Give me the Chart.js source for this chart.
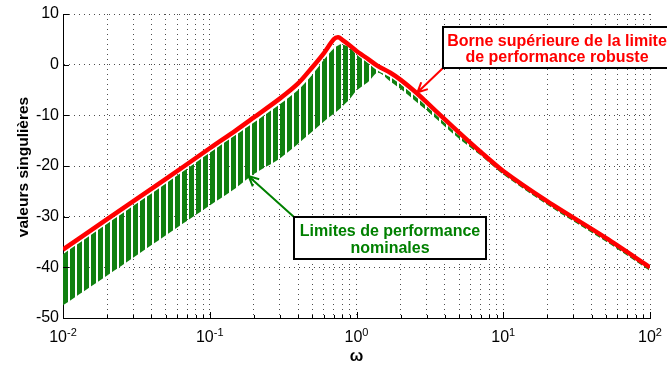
<!DOCTYPE html>
<html>
<head>
<meta charset="utf-8">
<script src="https://cdn.jsdelivr.net/npm/chart.js@4.4.0/dist/chart.umd.min.js"></script>
<style>
  html, body { margin: 0; padding: 0; background: #fff; }
  canvas { display: block; }
</style>
</head>
<body>
<canvas id="c" width="667" height="365"></canvas>
<script>
// frequency points (rad/s)
const omega = [0.01, 0.02, 0.05, 0.1, 0.15, 0.2, 0.3, 0.4, 0.5, 0.6, 0.7, 0.75, 0.8, 0.9, 1, 1.2, 1.4, 1.7, 2, 2.5, 3, 4, 5, 7, 10, 20, 50, 100]

// red: upper bound of robust performance limit (dB)
const robustUpper = [-36.5, -30.5, -22.6, -16.5, -13.0, -10.4, -6.7, -3.7, -0.5, 2.3, 5.0, 5.4, 4.9, 3.8, 2.7, 1.1, -0.3, -1.6, -3.0, -5.3, -7.4, -10.8, -13.4, -17.2, -21.0, -27.0, -34.2, -40.0]

// green: envelope of the nominal performance limits (dB)
const nominalUpper = [-37.4, -31.4, -23.5, -17.4, -13.9, -11.4, -7.8, -5.0, -2.0, 1.0, 3.2, 3.8, 4.0, 3.4, 2.0, 0.3, -1.2, -2.5, -3.9, -6.2, -8.2, -11.5, -14.0, -17.5, -21.3, -27.3, -34.5, -40.3]
const nominalLower = [-47.5, -41.6, -33.7, -27.8, -24.4, -21.6, -18.5, -15.6, -13.2, -11.2, -9.7, -9.0, -8.3, -6.8, -5.1, -3.4, -1.6, -3.3, -4.8, -7.1, -9.0, -12.2, -14.6, -17.9, -21.7, -27.7, -34.9, -40.7]

const yTicks = [-50, -40, -30, -20, -10, 0, 10]
const xDecades = [0.01, 0.1, 1, 10, 100]
const xExponents = ['-2', '-1', '0', '1', '2']

const RED = '#ff0000'
const GREEN = '#008000'
const FONT = 'Arial, "Liberation Sans", sans-serif'

const canvas = document.getElementById('c')
const ctx0 = canvas.getContext('2d')

// vertical hatching used for the nominal band
function hatch() {
    const c = document.createElement('canvas')
    c.width = 7
    c.height = 6
    const g = c.getContext('2d')
    g.fillStyle = 'rgb(16,128,16)'
    g.fillRect(0, 0, 5, 6)
    return ctx0.createPattern(c, 'repeat')
}

const pts = (ys) => omega.map((w, i) => ({ x: w, y: ys[i] }))

// grid positions of the log axis: 1..9 in each decade
const xGrid = []
xDecades.forEach((d, i) => {
    if (i === xDecades.length - 1) { xGrid.push(d); return }
    for (let k = 1; k <= 9; k++) xGrid.push(+(d * k).toPrecision(3))
})

function arrow(ctx, x1, y1, x2, y2, color) {
    const a = Math.atan2(y2 - y1, x2 - x1)
    const len = 11, spread = 0.45
    ctx.strokeStyle = color
    ctx.lineWidth = 2
    ctx.beginPath()
    ctx.moveTo(x1, y1)
    ctx.lineTo(x2, y2)
    ctx.moveTo(x2 - len * Math.cos(a - spread), y2 - len * Math.sin(a - spread))
    ctx.lineTo(x2, y2)
    ctx.lineTo(x2 - len * Math.cos(a + spread), y2 - len * Math.sin(a + spread))
    ctx.stroke()
}

function textBox(ctx, x1, y1, x2, y2, lines, cx, baselines, color) {
    ctx.fillStyle = '#fff'
    ctx.fillRect(x1, y1, x2 - x1, y2 - y1)
    ctx.strokeStyle = '#000'
    ctx.lineWidth = 2
    ctx.strokeRect(x1, y1, x2 - x1, y2 - y1)
    ctx.fillStyle = color
    ctx.font = 'bold 16px ' + FONT
    ctx.textAlign = 'center'
    ctx.textBaseline = 'alphabetic'
    lines.forEach((t, i) => ctx.fillText(t, cx, baselines[i]))
}

const overlay = {
    id: 'overlay',
    afterDraw(chart) {
        const { ctx, chartArea: a, scales: { x, y } } = chart
        ctx.save()

        // tick marks pointing into the plot
        ctx.strokeStyle = '#000'
        ctx.lineWidth = 1
        ctx.beginPath()
        xGrid.forEach(v => {
            const px = Math.round(x.getPixelForValue(v)) + 0.5
            const len = xDecades.includes(v) ? 6 : 3
            ctx.moveTo(px, a.bottom)
            ctx.lineTo(px, a.bottom - len)
        })
        yTicks.forEach(v => {
            const py = Math.round(y.getPixelForValue(v)) + 0.5
            ctx.moveTo(a.left, py)
            ctx.lineTo(a.left + 6, py)
        })
        ctx.stroke()

        // x tick labels 10^n
        ctx.fillStyle = '#000'
        ctx.textAlign = 'left'
        ctx.textBaseline = 'alphabetic'
        xDecades.forEach((v, i) => {
            const px = x.getPixelForValue(v)
            ctx.font = '16px ' + FONT
            const bw = ctx.measureText('10').width
            ctx.font = '11px ' + FONT
            const ew = ctx.measureText(xExponents[i]).width
            const left = px - (bw + ew) / 2
            ctx.font = '16px ' + FONT
            ctx.fillText('10', left, 342)
            ctx.font = '11px ' + FONT
            ctx.fillText(xExponents[i], left + bw, 336)
        })

        // axis titles
        ctx.font = 'bold 16px ' + FONT
        ctx.textAlign = 'center'
        ctx.fillText('ω', (a.left + a.right) / 2, 361)
        ctx.save()
        ctx.translate(28, 167)
        ctx.rotate(-Math.PI / 2)
        ctx.font = 'bold 15.5px ' + FONT
        ctx.fillText('valeurs singulières', 0, 0)
        ctx.restore()

        // annotations
        const px = (w) => x.getPixelForValue(w)
        const py = (v) => y.getPixelForValue(v)
        arrow(ctx, 443, 68, px(2.6), py(-5.5), RED)
        textBox(ctx, 443, 27, 672, 68, ['Borne supérieure de la limite', 'de performance robuste'], 557, [45.5, 61.5], RED)
        arrow(ctx, 294, 217, px(0.184), py(-22.0), GREEN)
        textBox(ctx, 294, 217, 486, 259, ['Limites de performance', 'nominales'], 390, [235.5, 252.5], GREEN)

        ctx.restore()
    }
}

new Chart(canvas, {
    type: 'line',
    data: {
        datasets: [
            {
                label: 'robuste',
                data: pts(robustUpper),
                borderColor: RED,
                borderWidth: 4.5,
                pointRadius: 0,
                fill: false,
                tension: 0.3,
            },
            {
                label: 'nominales haut',
                data: pts(nominalUpper),
                borderWidth: 0,
                borderColor: 'rgba(0,0,0,0)',
                pointRadius: 0,
                fill: '+1',
                backgroundColor: hatch(),
                tension: 0.3,
            },
            {
                label: 'nominales bas',
                data: pts(nominalLower),
                borderWidth: 0,
                borderColor: 'rgba(0,0,0,0)',
                pointRadius: 0,
                fill: false,
                tension: 0.3,
            },
        ]
    },
    options: {
        responsive: false,
        devicePixelRatio: 1,
        animation: false,
        layout: { padding: { left: 0, right: 17, top: 14, bottom: 0 } },
        plugins: { legend: { display: false }, tooltip: { enabled: false } },
        scales: {
            x: {
                type: 'logarithmic',
                min: 0.01,
                max: 100,
                afterBuildTicks: (s) => { s.ticks = xGrid.map(v => ({ value: v, major: xDecades.includes(v) })) },
                afterFit: (s) => { s.height = 47 },
                ticks: { display: false },
                grid: { color: 'rgba(0,0,0,0.7)', lineWidth: 1, drawTicks: false },
                border: { display: true, color: '#000', width: 1, dash: [1, 4] },
            },
            y: {
                min: -50,
                max: 10,
                afterBuildTicks: (s) => { s.ticks = yTicks.map(v => ({ value: v })) },
                afterFit: (s) => { s.width = 63 },
                ticks: { color: '#000', font: { family: FONT, size: 16 }, padding: 4 },
                grid: { color: 'rgba(0,0,0,0.7)', lineWidth: 1, drawTicks: false },
                border: { display: true, color: '#000', width: 1, dash: [1, 4] },
            }
        }
    },
    plugins: [overlay]
})
</script>
</body>
</html>
